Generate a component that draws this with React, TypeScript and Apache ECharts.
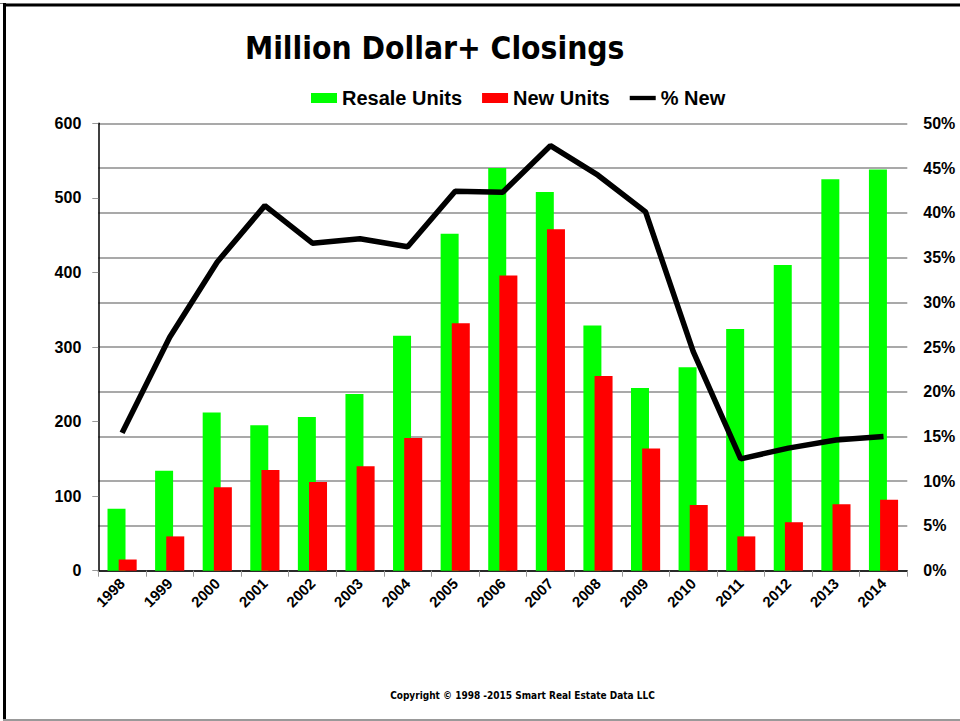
import React, { useEffect, useRef } from "react";
import * as echarts from "echarts";

const years = ["1998","1999","2000","2001","2002","2003","2004","2005","2006","2007","2008","2009","2010","2011","2012","2013","2014"];
const resaleUnits = [83, 134, 212, 195, 206, 237, 315, 452, 540, 508, 329, 245, 273, 324, 410, 525, 538];
const newUnits = [15, 46, 112, 135, 119, 140, 178, 332, 396, 458, 261, 164, 88, 46, 65, 89, 95];
const pctNew = [0.154, 0.261, 0.345, 0.408, 0.366, 0.371, 0.362, 0.424, 0.423, 0.475, 0.442, 0.401, 0.245, 0.125, 0.137, 0.146, 0.150];

const titleText = "Million Dollar+ Closings";
const copyrightText = "Copyright \u00a9 1998 -2015 Smart Real Estate Data LLC";

const ARIAL = "'Liberation Sans', Arial, sans-serif";
const NARROW = "'DejaVu Sans Condensed', 'Liberation Sans', sans-serif";

export default function App() {
  const ref = useRef<HTMLDivElement>(null);
  useEffect(() => {
    if (!ref.current) return;
    const chart = echarts.init(ref.current, null, { renderer: "svg" });
    chart.setOption({
      animation: false,
      backgroundColor: "#ffffff",
      grid: { left: 98.3, right: 52.7, top: 123.3, bottom: 150.3, containLabel: false },
      legend: {
        left: 311,
        top: 88,
        padding: 0,
        itemWidth: 26,
        itemHeight: 10,
        itemGap: 20,
        textStyle: { fontFamily: ARIAL, fontWeight: "bold", fontSize: 20, color: "#000" },
        data: [
          { name: "Resale Units", icon: "rect" },
          { name: "New Units", icon: "rect" },
          { name: "% New", icon: "path://M0,0 L30,0 L30,5 L0,5 Z" },
        ],
      },
      xAxis: {
        type: "category",
        data: years,
        boundaryGap: true,
        axisLine: { show: true, lineStyle: { color: "#000", width: 1.5 } },
        axisTick: { show: true, interval: 0, length: 6, lineStyle: { color: "#999" } },
        axisLabel: {
          interval: 0,
          rotate: 45,
          margin: 10,
          fontFamily: ARIAL,
          fontWeight: "bold",
          fontSize: 15,
          color: "#000",
        },
        splitLine: { show: false },
      },
      yAxis: [
        {
          type: "value",
          min: 0,
          max: 600,
          interval: 100,
          position: "left",
          axisLine: { show: true, lineStyle: { color: "#000", width: 1.5 } },
          axisTick: { show: true, length: 6, lineStyle: { color: "#999" } },
          axisLabel: { margin: 17, fontFamily: ARIAL, fontWeight: "bold", fontSize: 16, color: "#000" },
          splitLine: { show: false },
        },
        {
          type: "value",
          min: 0,
          max: 0.5,
          interval: 0.05,
          position: "right",
          axisLine: { show: false },
          axisTick: { show: false },
          axisLabel: {
            margin: 16,
            fontFamily: ARIAL,
            fontWeight: "bold",
            fontSize: 16,
            color: "#000",
            formatter: (v: number) => Math.round(v * 100) + "%",
          },
          splitLine: { show: true, lineStyle: { color: "#8c8c8c", width: 1.5 } },
        },
      ],
      series: [
        {
          name: "Resale Units",
          type: "bar",
          data: resaleUnits,
          barWidth: 18,
          barGap: "-38%",
          itemStyle: { color: "#00ff00" },
        },
        {
          name: "New Units",
          type: "bar",
          data: newUnits,
          barWidth: 18,
          barGap: "-38%",
          itemStyle: { color: "#ff0000" },
        },
        {
          name: "% New",
          type: "line",
          yAxisIndex: 1,
          data: pctNew,
          symbol: "none",
          lineStyle: { color: "#000", width: 5.5 },
          itemStyle: { color: "#000" },
          z: 5,
        },
      ],
      graphic: [
        {
          type: "text",
          x: 434.7,
          y: 48,
          style: {
            text: titleText,
            fill: "#000",
            fontFamily: NARROW,
            fontWeight: "bold",
            fontSize: 31.5,
            textAlign: "center",
            textVerticalAlign: "middle",
          },
        },
        {
          type: "text",
          x: 522.5,
          y: 695,
          style: {
            text: copyrightText,
            fill: "#000",
            fontFamily: NARROW,
            fontWeight: "bold",
            fontSize: 10,
            textAlign: "center",
            textVerticalAlign: "middle",
          },
        },
        { type: "rect", shape: { x: 0, y: 3, width: 960, height: 1 }, style: { fill: "#777" } },
        { type: "rect", shape: { x: 3, y: 4, width: 960, height: 2.5 }, style: { fill: "#000" } },
        { type: "rect", shape: { x: 3, y: 3, width: 3, height: 718 }, style: { fill: "#000" } },
        { type: "rect", shape: { x: 3, y: 719, width: 957, height: 2 }, style: { fill: "#999" } },
      ],
    });
    return () => chart.dispose();
  }, []);
  return (
    <div
      ref={ref}
      style={{ position: "fixed", left: 0, top: 0, width: 960, height: 721, background: "#fff" }}
    />
  );
}
